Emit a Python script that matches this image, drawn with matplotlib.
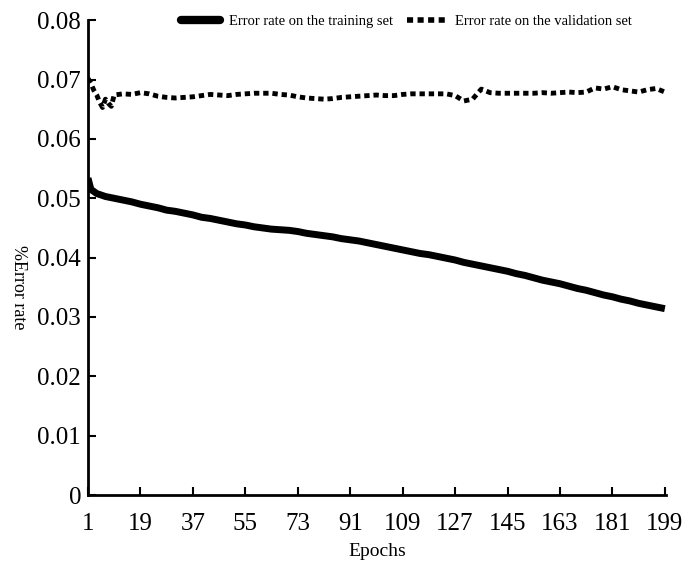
import matplotlib
matplotlib.use("Agg")
import matplotlib.pyplot as plt
from matplotlib.lines import Line2D

plt.rcParams['font.family'] = ['Liberation Serif', 'DejaVu Serif']

train_epochs = [1, 2] + list(range(4, 200, 3))
train_err = [0.0534, 0.0515, 0.0508, 0.0503, 0.0500, 0.0497, 0.0494, 0.0490, 0.0487, 0.0484,
             0.0480, 0.0478, 0.0475, 0.0472, 0.0468, 0.0466, 0.0463, 0.0460, 0.0457, 0.0455,
             0.0452, 0.0450, 0.0448, 0.0447, 0.0446, 0.0444, 0.0441, 0.0439, 0.0437, 0.0435,
             0.0432, 0.0430, 0.0428, 0.0425, 0.0422, 0.0419, 0.0416, 0.0413, 0.0410, 0.0407,
             0.0405, 0.0402, 0.0399, 0.0396, 0.0392, 0.0389, 0.0386, 0.0383, 0.0380, 0.0377,
             0.0373, 0.0370, 0.0366, 0.0362, 0.0359, 0.0356, 0.0352, 0.0348, 0.0345, 0.0341,
             0.0337, 0.0334, 0.0330, 0.0327, 0.0323, 0.0320, 0.0317, 0.0314]

val_epochs = [1, 2, 3, 4, 5, 6, 7, 8, 9, 10] + list(range(13, 200, 3))
val_err = [0.0702, 0.0694, 0.0682, 0.0674, 0.0662, 0.0653, 0.0667, 0.0660, 0.0655, 0.0674,
           0.0676, 0.0675, 0.0678, 0.0676, 0.0672,
           0.0670, 0.0669, 0.0670, 0.0671, 0.0673, 0.0675, 0.0674, 0.0673, 0.0675, 0.0676,
           0.0677, 0.0677, 0.0677, 0.0675, 0.0674, 0.0671, 0.0669, 0.0668, 0.0667, 0.0668,
           0.0670, 0.0671, 0.0672, 0.0673, 0.0674, 0.0673, 0.0673, 0.0675, 0.0676, 0.0676,
           0.0676, 0.0676, 0.0676, 0.0673, 0.0664, 0.0667, 0.0684, 0.0678, 0.0677, 0.0677,
           0.0677, 0.0677, 0.0677, 0.0678, 0.0677, 0.0678, 0.0679, 0.0678, 0.0679, 0.0686,
           0.0684, 0.0688, 0.0683, 0.0681, 0.0679, 0.0683, 0.0685, 0.0679]

xticks = [1, 19, 37, 55, 73, 91, 109, 127, 145, 163, 181, 199]
yticks = [0, 0.01, 0.02, 0.03, 0.04, 0.05, 0.06, 0.07, 0.08]
ytick_labels = ["0", "0.01", "0.02", "0.03", "0.04", "0.05", "0.06", "0.07", "0.08"]

fig = plt.figure(figsize=(6.82, 5.72), dpi=100)
ax = fig.add_axes([0.129, 0.1346, 0.848, 0.830])

ax.plot(train_epochs, train_err, color='black', lw=5, solid_capstyle='butt',
        label='Error rate on the training set')
ax.plot(val_epochs, val_err, color='black', lw=3.5, dashes=(1.1, 0.8),
        label='Error rate on the validation set')

ax.set_xlim(1, 199.5)
ax.set_ylim(0, 0.08)
ax.set_xticks(xticks)
ax.set_xticklabels([str(t) for t in xticks])
ax.set_yticks(yticks)
ax.set_yticklabels(ytick_labels)
ax.tick_params(direction='in', length=6, width=1.5, labelsize=18, pad=5)
ax.tick_params(axis='x', pad=13)
for s in ['top', 'right']:
    ax.spines[s].set_visible(False)
for s in ['left', 'bottom']:
    ax.spines[s].set_linewidth(2)

ax.set_xlabel('Epochs', fontsize=14, labelpad=6)
fig.text(18 / 682, 1 - 287 / 572, '%Error rate', fontsize=13, rotation=270,
         ha='center', va='center')

handles = [Line2D([], [], color='black', lw=6, solid_capstyle='round'),
           Line2D([], [], color='black', lw=4, dashes=(1.1, 0.8))]
fig.legend(handles, ['Error rate on the training set', 'Error rate on the validation set'],
           loc='center', bbox_to_anchor=(0.596, 0.962), ncol=2, frameon=False,
           fontsize=10.5, handlelength=2.7, columnspacing=1.0, handletextpad=0.6)

fig.savefig('out.png', dpi=100)
